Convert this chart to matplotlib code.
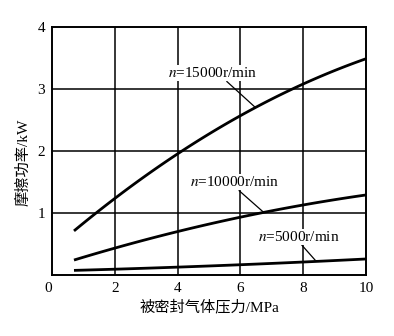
import matplotlib
matplotlib.use("Agg")
import matplotlib.pyplot as plt
import numpy as np

plt.rcParams['font.family'] = ['Liberation Serif', 'Noto Sans CJK SC']
plt.rcParams['mathtext.fontset'] = 'stix'

pressure = [0.7, 2, 4, 6, 8, 10]
p15000 = [0.68, 1.26, 2.0, 2.55, 3.03, 3.52]
p10000 = [0.24, 0.44, 0.69, 0.94, 1.13, 1.29]
p5000 = [0.07, 0.10, 0.13, 0.16, 0.21, 0.26]

labels = ['$n$=15000r/min', '$n$=10000r/min', '$n$=5000r/min']
label_pos = [(5.12, 3.26), (5.82, 1.5), (7.87, 0.61)]
leader_start = [(5.57, 3.12), (5.96, 1.36), (7.96, 0.48)]
leader_end = [(6.46, 2.71), (6.72, 1.02), (8.38, 0.24)]

xticks = [0, 2, 4, 6, 8, 10]
yticks = [1, 2, 3, 4]

fig = plt.figure(figsize=(3.94, 3.36), dpi=100)
ax = fig.add_axes([0.132, 0.1815, 0.797, 0.7381])

for ys in (p15000, p10000, p5000):
    xs = np.array(pressure)
    coef = np.polyfit(xs, ys, 2)
    xx = np.linspace(xs[0], xs[-1], 100)
    ax.plot(xx, np.polyval(coef, xx), color='black', lw=2.0, solid_capstyle='butt')

for v in [2, 4, 6, 8]:
    ax.axvline(v, color='black', lw=1.1)
for v in [1, 2, 3]:
    ax.axhline(v, color='black', lw=1.1)

for lab, pos, s, e in zip(labels, label_pos, leader_start, leader_end):
    ax.text(pos[0], pos[1], lab, ha='center', va='center', fontsize=11,
            bbox=dict(facecolor='white', edgecolor='none', pad=0.5))
    ax.plot([s[0], e[0]], [s[1], e[1]], color='black', lw=0.9)

ax.set_xlim(0, 10)
ax.set_ylim(0, 4)
ax.set_xticks(xticks)
ax.set_yticks(yticks)
ax.set_xticklabels([str(t) for t in xticks], fontsize=11)
ax.set_yticklabels([str(t) for t in yticks], fontsize=11)
ax.tick_params(length=0, pad=5)
ax.xaxis.get_majorticklabels()[0].set_horizontalalignment('right')
for sp in ax.spines.values():
    sp.set_linewidth(1.4)

ax.set_xlabel('被密封气体压力/MPa', fontsize=11, labelpad=3)
ax.set_ylabel('摩擦功率/kW', fontsize=11)
ax.yaxis.set_label_coords(-0.068, 0.455)

fig.savefig('out.png', dpi=100)
